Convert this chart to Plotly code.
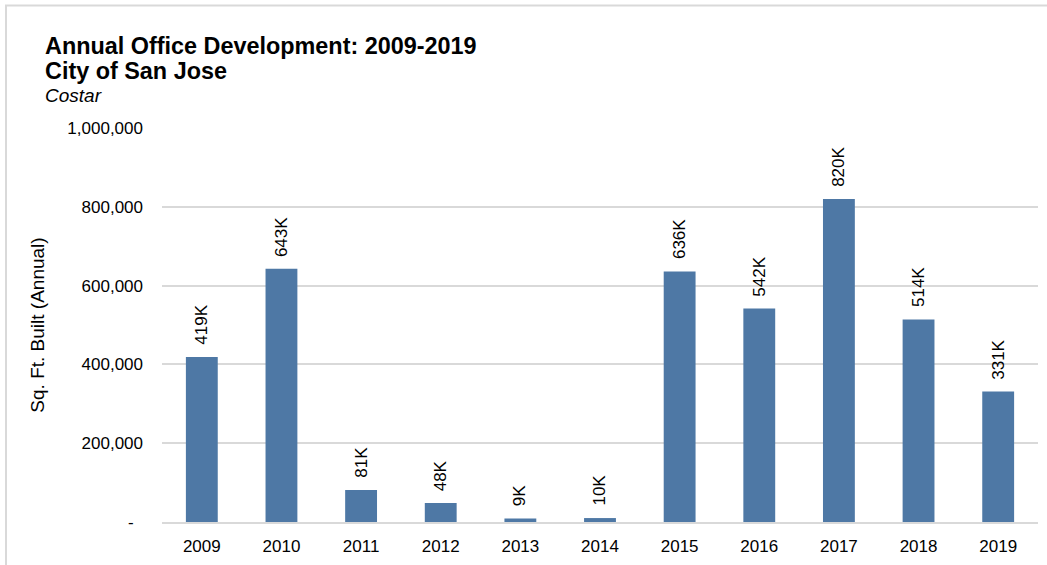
import plotly.graph_objects as go

# Annual office space delivered in San Jose (square feet)
years = ["2009", "2010", "2011", "2012", "2013", "2014",
         "2015", "2016", "2017", "2018", "2019"]
sq_ft_built = [419000, 643000, 81000, 48000, 9000, 10000,
               636000, 542000, 820000, 514000, 331000]

y_tick_vals = [0, 200000, 400000, 600000, 800000, 1000000]
y_tick_text = ["-\u00a0\u00a0", "200,000", "400,000", "600,000", "800,000", "1,000,000"]

BAR_COLOR = "#4E78A5"
GRID_COLOR = "#D9D9D9"
FONT = "Liberation Sans, Arial, sans-serif"

W, H = 1047, 565
M_L, M_R, M_T, M_B = 162, 9, 128, 41
plot_w = W - M_L - M_R
plot_h = H - M_T - M_B


def px_x(x):
    return (x - M_L) / plot_w


def px_y(y):
    return (H - M_B - y) / plot_h


fig = go.Figure(
    go.Bar(
        x=years,
        y=sq_ft_built,
        marker=dict(color=BAR_COLOR, line=dict(width=0)),
        hoverinfo="x+y",
    )
)

# value labels above each bar, rotated (x given as category index)
for i, v in enumerate(sq_ft_built):
    fig.add_annotation(
        x=i, y=v, xref="x", yref="y",
        text=f"{round(v / 1000)}K",
        textangle=-90,
        showarrow=False,
        xanchor="center", yanchor="bottom",
        yshift=10,
        font=dict(family=FONT, size=17, color="#000000"),
    )

# title block
fig.add_annotation(
    x=px_x(43), y=px_y(31), xref="paper", yref="paper",
    xanchor="left", yanchor="top", align="left", showarrow=False,
    text="<b>Annual Office Development: 2009-2019</b>",
    font=dict(family=FONT, size=23.4, color="#000000"),
)
fig.add_annotation(
    x=px_x(43), y=px_y(56), xref="paper", yref="paper",
    xanchor="left", yanchor="top", align="left", showarrow=False,
    text="<b>City of San Jose</b>",
    font=dict(family=FONT, size=23.4, color="#000000"),
)
fig.add_annotation(
    x=px_x(43), y=px_y(83), xref="paper", yref="paper",
    xanchor="left", yanchor="top", align="left", showarrow=False,
    text="<i>Costar</i>",
    font=dict(family=FONT, size=19, color="#000000"),
)

# outer chart frame
fig.add_shape(
    type="rect", xref="paper", yref="paper",
    x0=px_x(6), x1=px_x(1060), y0=px_y(5), y1=px_y(580),
    line=dict(color=GRID_COLOR, width=2), fillcolor="rgba(0,0,0,0)",
    layer="below",
)

fig.update_layout(
    width=W, height=H,
    margin=dict(l=M_L, r=M_R, t=M_T, b=M_B),
    paper_bgcolor="#FFFFFF",
    plot_bgcolor="#FFFFFF",
    bargap=0.6,
    showlegend=False,
    font=dict(family=FONT, size=17, color="#000000"),
    xaxis=dict(
        type="category",
        range=[-0.5, len(years) - 0.5],
        showgrid=False,
        showline=True, linecolor=GRID_COLOR, linewidth=2,
        ticks="", ticklabelstandoff=8,
        tickfont=dict(family=FONT, size=17, color="#000000"),
    ),
    yaxis=dict(
        range=[0, 1000000],
        tickvals=y_tick_vals, ticktext=y_tick_text,
        showgrid=True, gridcolor=GRID_COLOR, gridwidth=1.5,
        zeroline=False, showline=False,
        ticks="", ticklabelstandoff=18,
        tickfont=dict(family=FONT, size=17, color="#000000"),
        title=dict(text="Sq. Ft. Built (Annual)", standoff=17,
                   font=dict(family=FONT, size=19, color="#000000")),
    ),
)

fig.write_html("out.html")
